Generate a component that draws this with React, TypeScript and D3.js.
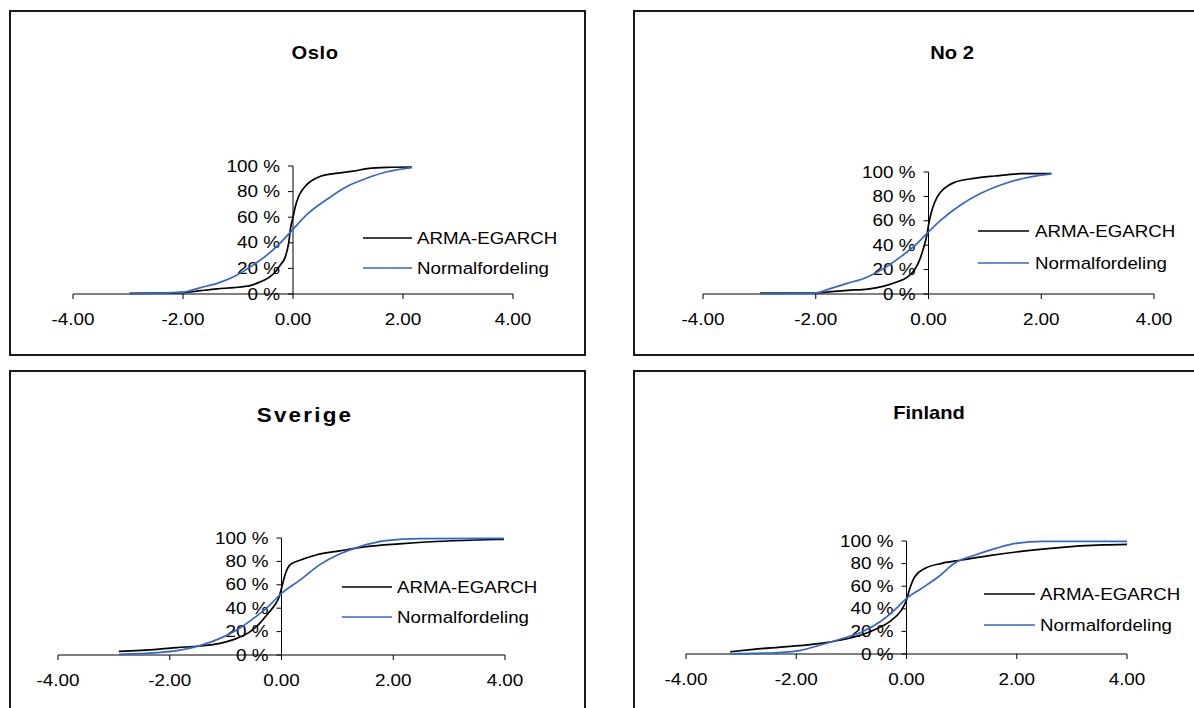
import React from 'react';
import * as d3 from 'd3';

const xTicks = [-4, -2, 0, 2, 4];
const yTicks = [0, 20, 40, 60, 80, 100];
const seriesNames = ['ARMA-EGARCH', 'Normalfordeling'];
const panelTitles = ['Oslo', 'No 2', 'Sverige', 'Finland'];

// Oslo
const osloArmaX = [-2.97, -2.0, -1.68, -1.38, -1.08, -0.78, -0.59, -0.47, -0.35, -0.23, -0.14, -0.08, -0.04, 0.0, 0.04, 0.1, 0.19, 0.32, 0.5, 0.74, 1.1, 1.35, 1.71, 2.16];
const osloArmaY = [0.5, 1, 2.6, 4, 5, 6.5, 9.6, 12, 16, 22.7, 29, 39.5, 52.6, 60, 68, 76, 82.5, 88, 92, 94, 96, 98, 99, 99.2];
const osloNormX = [-2.97, -2.0, -1.68, -1.38, -1.08, -0.78, -0.47, -0.23, 0.0, 0.25, 0.62, 0.98, 1.35, 1.71, 2.16];
const osloNormY = [0.3, 1.5, 5, 8.3, 13.5, 21, 30.5, 40, 50.5, 62, 74, 84, 90.6, 95.5, 98.8];

// No 2
const no2ArmaX = [-2.99, -2.0, -1.73, -1.44, -1.08, -0.79, -0.55, -0.37, -0.25, -0.17, -0.09, -0.03, 0.01, 0.07, 0.16, 0.28, 0.46, 0.81, 1.17, 1.64, 2.0, 2.18];
const no2ArmaY = [0.8, 0.8, 1.9, 3, 4, 6.5, 10, 14, 19.7, 26.5, 37.4, 48, 59, 70, 80, 86.6, 91.5, 94.8, 96.7, 98.6, 98.7, 98.8];
const no2NormX = [-2.99, -2.0, -1.73, -1.44, -1.08, -0.79, -0.49, -0.2, 0.0, 0.22, 0.57, 0.93, 1.28, 1.64, 2.0, 2.18];
const no2NormY = [0.3, 1, 4.6, 8.7, 14, 21, 30.6, 41.5, 51, 60.6, 73, 82.5, 89.3, 94.3, 97.5, 98.5];

// Sverige
const sveArmaX = [-2.91, -2.23, -1.87, -1.46, -1.1, -0.8, -0.56, -0.39, -0.24, -0.12, -0.04, 0.0, 0.06, 0.15, 0.33, 0.62, 1.04, 1.52, 2.11, 2.76, 3.48, 3.98];
const sveArmaY = [3.1, 4.8, 6.3, 7.7, 10, 14.2, 20, 27, 35.6, 42.7, 50, 57, 68, 77, 81, 85.5, 89, 92.6, 95, 97, 98.3, 98.9];
const sveNormX = [-2.91, -2.23, -1.87, -1.46, -1.1, -0.8, -0.5, -0.21, 0.0, 0.33, 0.68, 1.04, 1.4, 1.87, 2.47, 3.98];
const sveNormY = [0.6, 2, 3.7, 8, 14.2, 21.4, 31.3, 42.7, 52.7, 64, 77, 86.3, 92.6, 97.7, 99.4, 99.7];

// Finland
const finArmaX = [-3.2, -2.78, -2.17, -1.56, -1.19, -0.82, -0.52, -0.27, -0.09, 0.0, 0.06, 0.15, 0.34, 0.64, 1.01, 1.5, 2.11, 2.72, 3.57, 4.0];
const finArmaY = [2, 4.1, 6.5, 9.4, 12.4, 16.8, 22.7, 30, 39, 47.8, 58, 68.4, 75.8, 80.2, 83.2, 87, 91, 94, 96.5, 97];
const finNormX = [-3.2, -2.47, -1.98, -1.56, -1.19, -0.82, -0.46, -0.15, 0.0, 0.27, 0.58, 0.89, 1.25, 1.62, 1.98, 2.47, 4.0];
const finNormY = [0.3, 0.9, 2.7, 8, 13.3, 19.2, 29.2, 42, 49.3, 58, 68.4, 81, 87.6, 93.5, 97.9, 99.6, 99.7];

const zip = (xs: number[], ys: number[]) => xs.map((x, i) => [x, ys[i]] as [number, number]);

const FONT = '"Liberation Sans", Arial, sans-serif';
const BLUE = '#3366cc';

type Layout = {
  frame: [number, number, number, number];
  x0: number; x1: number;
  yBottom: number; yTop: number;
  titleX: number; titleY: number; titleSize: number; titleSpacing: number;
  legX0: number; legX1: number; legText: number; legY: number[];
};

const layouts: Layout[] = [
  { frame: [10, 11, 575, 344], x0: 73, x1: 513, yBottom: 294, yTop: 166, titleX: 315, titleY: 59, titleSize: 18, titleSpacing: 0.5, legX0: 363, legX1: 412, legText: 417, legY: [238, 268] },
  { frame: [634, 11, 575, 344], x0: 703, x1: 1154, yBottom: 294, yTop: 172, titleX: 952, titleY: 59, titleSize: 18, titleSpacing: 0, legX0: 978, legX1: 1029, legText: 1035, legY: [231, 263] },
  { frame: [10, 371, 575, 344], x0: 58, x1: 505, yBottom: 655, yTop: 538, titleX: 305, titleY: 422, titleSize: 20, titleSpacing: 2, legX0: 342, legX1: 392, legText: 397, legY: [587, 617] },
  { frame: [634, 371, 575, 344], x0: 686, x1: 1127, yBottom: 654, yTop: 541, titleX: 929, titleY: 419, titleSize: 18, titleSpacing: 0, legX0: 984, legX1: 1035, legText: 1040, legY: [594, 625] },
];

const panelData = [
  [zip(osloArmaX, osloArmaY), zip(osloNormX, osloNormY)],
  [zip(no2ArmaX, no2ArmaY), zip(no2NormX, no2NormY)],
  [zip(sveArmaX, sveArmaY), zip(sveNormX, sveNormY)],
  [zip(finArmaX, finArmaY), zip(finNormX, finNormY)],
];

const Txt = ({ x, y, sx = 1.15, size, anchor = 'start', weight = 'normal', spacing = 0, children }: any) => (
  <text
    transform={`translate(${x},${y}) scale(${sx},1)`}
    textAnchor={anchor}
    fontSize={size}
    fontWeight={weight}
    letterSpacing={spacing}
    fontFamily={FONT}
    fill="#000"
  >
    {children}
  </text>
);

const Panel = ({ title, layout, series }: { title: string; layout: Layout; series: [number, number][][] }) => {
  const L = layout;
  const x = d3.scaleLinear().domain([-4, 4]).range([L.x0, L.x1]);
  const y = d3.scaleLinear().domain([0, 100]).range([L.yBottom, L.yTop]);
  const line = d3.line<[number, number]>().x(d => x(d[0])).y(d => y(d[1])).curve(d3.curveMonotoneX);
  const colors = ['#000', BLUE];
  const ax = x(0);
  return (
    <g>
      <rect x={L.frame[0]} y={L.frame[1]} width={L.frame[2]} height={L.frame[3]} fill="#fff" stroke="#000" strokeWidth={1.8} />
      <Txt x={L.titleX} y={L.titleY} size={L.titleSize} anchor="middle" weight="bold" spacing={L.titleSpacing} sx={1.12}>{title}</Txt>
      {/* x axis */}
      <line x1={x(-4)} x2={x(4)} y1={y(0)} y2={y(0)} stroke="#000" strokeWidth={1} />
      {xTicks.map(t => (
        <g key={t}>
          <line x1={x(t)} x2={x(t)} y1={y(0)} y2={y(0) + 5} stroke="#000" strokeWidth={1} />
          <Txt x={x(t)} y={y(0) + 31} size={16} anchor="middle" sx={1.18}>{t.toFixed(2)}</Txt>
        </g>
      ))}
      {/* y axis */}
      <line x1={ax} x2={ax} y1={y(0)} y2={y(100)} stroke="#000" strokeWidth={1} />
      {yTicks.map(t => (
        <g key={t}>
          <line x1={ax - 5} x2={ax} y1={y(t)} y2={y(t)} stroke="#000" strokeWidth={1} />
          <Txt x={ax - 13} y={y(t) + 5.5} size={16} anchor="end" sx={1.18}>{`${t} %`}</Txt>
        </g>
      ))}
      {series.map((s, i) => (
        <path key={i} d={line(s) || ''} fill="none" stroke={colors[i]} strokeWidth={1.7} />
      ))}
      {seriesNames.map((n, i) => (
        <g key={n}>
          <line x1={L.legX0} x2={L.legX1} y1={L.legY[i]} y2={L.legY[i]} stroke={colors[i]} strokeWidth={1.7} />
          <Txt x={L.legText} y={L.legY[i] + 6} size={17} sx={1.1}>{n}</Txt>
        </g>
      ))}
    </g>
  );
};

export default function App() {
  return (
    <svg width={1194} height={708} style={{ position: 'absolute', left: 0, top: 0, background: '#fff' }}>
      <rect width={1194} height={708} fill="#fff" />
      {panelTitles.map((t, i) => (
        <Panel key={t} title={t} layout={layouts[i]} series={panelData[i]} />
      ))}
    </svg>
  );
}
